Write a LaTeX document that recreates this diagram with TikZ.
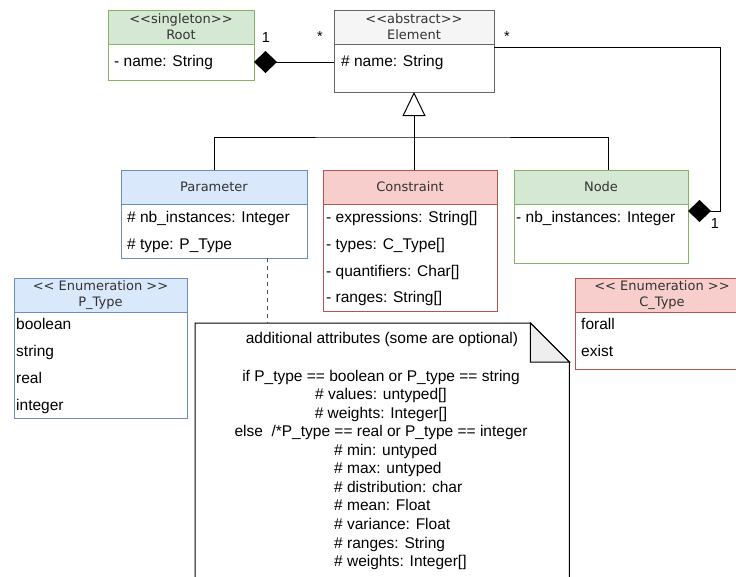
\documentclass[tikz,border=0pt]{standalone}
\usepackage{fontspec}
\setmainfont{Liberation Sans}
\newfontfamily\hdrfont{DejaVu Sans}
\usetikzlibrary{arrows.meta,positioning}

\definecolor{greenfill}{HTML}{D5E8D4}
\definecolor{greenline}{HTML}{82B366}
\definecolor{grayfill}{HTML}{F5F5F5}
\definecolor{grayline}{HTML}{666666}
\definecolor{bluefill}{HTML}{DAE8FC}
\definecolor{blueline}{HTML}{6C8EBF}
\definecolor{redfill}{HTML}{F8CECC}
\definecolor{redline}{HTML}{B85450}
\definecolor{hdrtext}{HTML}{333333}
\definecolor{foldfill}{HTML}{EEEEEE}

\tikzset{
  hdr/.style={draw, rectangle, anchor=north west, inner sep=0pt, outer sep=0pt,
    line width=1pt, align=center, text=hdrtext,
    font=\hdrfont\fontsize{13}{16}\selectfont, minimum height=34pt},
  body/.style={draw, rectangle, anchor=north west, inner sep=0pt, outer sep=0pt,
    line width=1pt, fill=white},
  attr/.style={anchor=west, inner sep=0pt, text height=11pt, text depth=3pt,
    font=\fontsize{15.5}{18.6}\selectfont},
  mult/.style={anchor=base, inner sep=0pt, font=\fontsize{14.5}{16}\selectfont},
  noteline/.style={inner sep=0pt, text height=11pt, text depth=3pt,
    font=\fontsize{15.5}{18.6}\selectfont},
  link/.style={line width=1pt, black},
  comp/.style={link, -{Diamond[length=23pt, width=22pt]}},
  inh/.style={link, -{Triangle[open, length=24pt, width=23pt]}},
  dashline/.style={line width=1pt, black!70, dash pattern=on 4pt off 4pt}
}

\begin{document}
\begin{tikzpicture}[x=1pt, y=-1pt]
  \useasboundingbox (0,0) rectangle (736,576);
  \fill[white] (0,0) rectangle (736,576);
  \clip (0,0) rectangle (736,576);

  % Root
  \node[hdr, fill=greenfill, draw=greenline, minimum width=146pt] (rooth) at (108,10) {<{}<singleton>{}>\\Root};
  \node[body, draw=greenline, minimum width=146pt, minimum height=36pt] (rootb) at (rooth.south west) {};
  \node[attr] (rootname) at (114,62) {- name: String};

  % Element
  \node[hdr, fill=grayfill, draw=grayline, minimum width=160pt] (elemh) at (334,10) {<{}<abstract>{}>\\Element};
  \node[body, draw=grayline, minimum width=160pt, minimum height=48pt] (elemb) at (elemh.south west) {};
  \node[attr] (elemname) at (341,62) {\# name: String};

  % Parameter
  \node[hdr, fill=bluefill, draw=blueline, minimum width=186pt] (paramh) at (121,170) {Parameter};
  \node[body, draw=blueline, minimum width=186pt, minimum height=54pt] (paramb) at (paramh.south west) {};
  \node[attr] (paramnb) at (127,218) {\# nb\_instances: Integer};
  \node[attr] (paramtype) at (127,245) {\# type: P\_Type};

  % Constraint
  \node[hdr, fill=redfill, draw=redline, minimum width=174pt] (constrh) at (323,170) {Constraint};
  \node[body, draw=redline, minimum width=174pt, minimum height=107pt] (constrb) at (constrh.south west) {};
  \node[attr] (constrexpr) at (326,218) {- expressions: String[]};
  \node[attr] (constrtypes) at (326,245) {- types: C\_Type[]};
  \node[attr] (constrquant) at (326,272) {- quantifiers: Char[]};
  \node[attr] (constrrange) at (326,298) {- ranges: String[]};

  % Node
  \node[hdr, fill=greenfill, draw=greenline, minimum width=174pt] (nodeh) at (514,170) {Node};
  \node[body, draw=greenline, minimum width=174pt, minimum height=59pt] (nodeb) at (nodeh.south west) {};
  \node[attr] (nodenb) at (516,218) {- nb\_instances: Integer};

  % P_Type
  \node[hdr, fill=bluefill, draw=blueline, minimum width=173pt] (ptypeh) at (14,278) {<{}< Enumeration >{}>\\P\_Type};
  \node[body, draw=blueline, minimum width=173pt, minimum height=106pt] (ptypeb) at (ptypeh.south west) {};
  \node[attr] (ptbool) at (16,325) {boolean};
  \node[attr] (ptstring) at (16,352) {string};
  \node[attr] (ptreal) at (16,379) {real};
  \node[attr] (ptint) at (16,406) {integer};

  % C_Type
  \node[hdr, fill=redfill, draw=redline, minimum width=174pt] (ctypeh) at (575,278) {<{}< Enumeration >{}>\\C\_Type};
  \node[body, draw=redline, minimum width=174pt, minimum height=57pt] (ctypeb) at (ctypeh.south west) {};
  \node[attr] (ctforall) at (581,325) {forall};
  \node[attr] (ctexist) at (581,352) {exist};

  % note
  \node[anchor=north west, inner sep=0pt, minimum width=374pt, minimum height=277pt] (note) at (195,323) {};
  \draw[line width=1pt, fill=white] (note.north west) -- ([xshift=-39pt]note.north east)
    -- ([yshift=-39pt]note.north east) -- (note.south east) -- (note.south west) -- cycle;
  \draw[line width=1pt, fill=foldfill] ([xshift=-39pt]note.north east)
    -- ([xshift=-39pt, yshift=-39pt]note.north east) -- ([yshift=-39pt]note.north east) -- cycle;
  \node[noteline] (notetitle) at (382,339) {additional attributes (some are optional)};
  \foreach \txt [count=\i] in {{if P\_type == boolean or P\_type == string},
      {\# values: untyped[]}, {\# weights: Integer[]},
      {else\ \ /*P\_type == real or P\_type == integer}}
    \node[noteline] (noteif\i) at (381,{377+18.65*(\i-1)}) {\txt};
  \foreach \txt [count=\i] in {{\# min: untyped}, {\# max: untyped},
      {\# distribution: char}, {\# mean: Float}, {\# variance: Float},
      {\# ranges: String}, {\# weights: Integer[]}}
    \node[noteline, anchor=west] (noteelse\i) at (334,{451+18.65*(\i-1)}) {\txt};

  % connectors
  \draw[comp] (rootb.east -| elemb.west) -- (rootb.east);
  \draw[comp] ([yshift=-3pt]elemh.south east) -- ++(226,0) |- ([yshift=-7pt]nodeb.north east);
  \coordinate (junc) at (414,137);
  \draw[inh] (junc) -- (elemb.south);
  \draw[link] (paramh.north) |- (junc) -| ([xshift=7pt]nodeh.north);
  \draw[link] (junc) -- (junc |- constrh.north);
  \draw[dashline] ([xshift=53pt]paramb.south) -- ([xshift=53pt]paramb.south |- note.north);

  % multiplicities
  \node[mult] (rootone) at (266,42) {1};
  \node[mult] (rootmany) at (320,41) {*};
  \node[mult] (nodemany) at (507,41) {*};
  \node[mult] (nodeone) at (715,228) {1};
\end{tikzpicture}
\end{document}
